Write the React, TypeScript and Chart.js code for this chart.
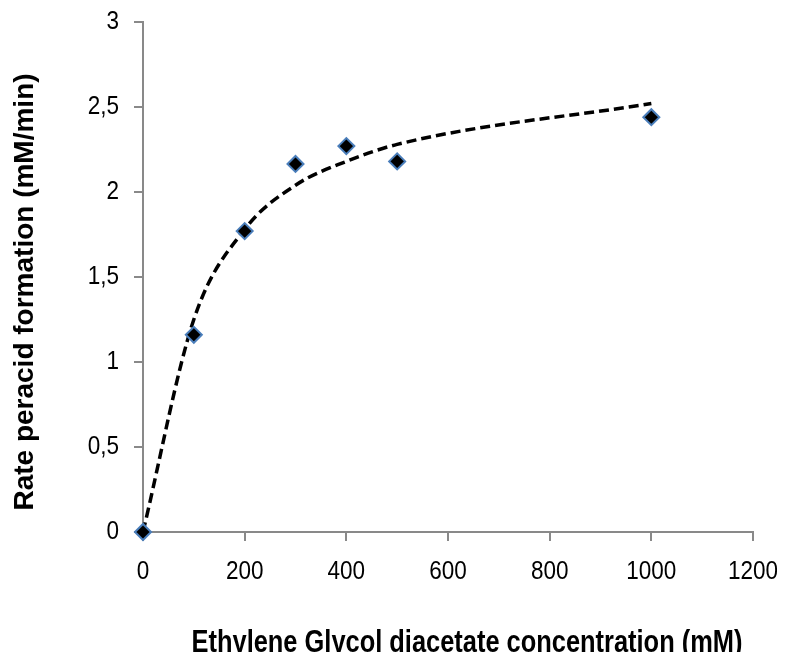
import React, { useEffect, useRef } from 'react';
import { Chart, registerables } from 'chart.js';

Chart.register(...registerables);

// ---- data ----
const concentrations = [0, 100, 200, 300, 400, 500, 1000];
const measuredRates = [0, 1.16, 1.77, 2.165, 2.27, 2.18, 2.44];
const fittedRates = [0, 1.25, 1.78, 2.04, 2.18, 2.28, 2.52];
const xTickLabels = ['0', '200', '400', '600', '800', '1000', '1200'];
const yTickLabels = ['0', '0,5', '1', '1,5', '2', '2,5', '3'];
const xTitle = 'Ethylene Glycol diacetate concentration (mM)';
const yTitle = 'Rate peracid formation (mM/min)';

const FONT = "'Liberation Sans', Arial, sans-serif";
const AXIS_GRAY = '#898989';
const TICK_SCALE_X = 0.9;
const TITLE_SCALE_X = 0.82;

// Horizontal text in the reference is narrow and tall: squeeze it horizontally.
const condensePlugin = {
  id: 'condenseText',
  beforeDraw(chart: any) {
    const ctx = chart.ctx as any;
    if (ctx.__origFillText) return;
    const orig = ctx.fillText;
    ctx.__origFillText = orig;
    ctx.fillText = function (text: string, x: number, y: number) {
      this.save();
      this.translate(x, y);
      this.scale(TICK_SCALE_X, 1);
      orig.call(this, text, 0, 0);
      this.restore();
    };
  },
};

const axisTitlePlugin = {
  id: 'axisTitles',
  afterDraw(chart: any) {
    const { chartArea } = chart;
    const ctx = chart.ctx as any;
    const orig = ctx.__origFillText || ctx.fillText;
    ctx.save();
    ctx.fillStyle = '#000';
    ctx.textAlign = 'center';
    ctx.textBaseline = 'alphabetic';
    ctx.font = `bold 31px ${FONT}`;
    ctx.save();
    ctx.translate((chartArea.left + chartArea.right) / 2 + 19, chart.height - 8);
    ctx.scale(TITLE_SCALE_X, 1);
    orig.call(ctx, xTitle, 0, 0);
    ctx.restore();
    ctx.translate(33, (chartArea.top + chartArea.bottom) / 2 + 15);
    ctx.rotate(-Math.PI / 2);
    ctx.font = `bold 28px ${FONT}`;
    orig.call(ctx, yTitle, 0, 0);
    ctx.restore();
  },
};

const zeroPad = (s: any) => {
  s.paddingTop = 0;
  s.paddingBottom = 0;
  s.paddingLeft = 0;
  s.paddingRight = 0;
};

export default function App() {
  const ref = useRef<HTMLCanvasElement | null>(null);

  useEffect(() => {
    if (!ref.current) return;
    const chart = new Chart(ref.current, {
      type: 'scatter',
      data: {
        datasets: [
          {
            label: 'measured',
            data: concentrations.map((x, i) => ({ x, y: measuredRates[i] })),
            pointStyle: 'rectRot',
            pointRadius: 8,
            pointBackgroundColor: '#000000',
            pointBorderColor: '#4A7EBB',
            pointBorderWidth: 2,
            showLine: false,
            clip: false,
          } as any,
          {
            label: 'fit',
            data: concentrations.map((x, i) => ({ x, y: fittedRates[i] })),
            showLine: true,
            borderColor: '#000000',
            borderWidth: 3.5,
            borderDash: [10, 5],
            pointRadius: 0,
            cubicInterpolationMode: 'monotone',
            fill: false,
            clip: false,
          } as any,
        ],
      },
      options: {
        animation: false,
        responsive: false,
        devicePixelRatio: 1,
        layout: { padding: { top: 22, right: 32, left: 0, bottom: 0 } },
        plugins: { legend: { display: false }, tooltip: { enabled: false } },
        scales: {
          x: {
            type: 'linear',
            min: 0,
            max: 1200,
            afterFit: (s: any) => { s.height = 128; zeroPad(s); },
            ticks: {
              stepSize: 200,
              color: '#000',
              padding: 16,
              font: { family: FONT, size: 25 },
              callback: (_v: any, i: number) => xTickLabels[i],
            },
            grid: { drawOnChartArea: false, drawTicks: true, tickLength: 9, color: AXIS_GRAY, lineWidth: 2 },
            border: { color: AXIS_GRAY, width: 2 },
          },
          y: {
            type: 'linear',
            min: 0,
            max: 3,
            afterFit: (s: any) => { s.width = 143; zeroPad(s); },
            ticks: {
              stepSize: 0.5,
              color: '#000',
              padding: 15,
              font: { family: FONT, size: 25 },
              callback: (_v: any, i: number) => yTickLabels[i],
            },
            grid: { drawOnChartArea: false, drawTicks: true, tickLength: 9, color: AXIS_GRAY, lineWidth: 2 },
            border: { color: AXIS_GRAY, width: 2 },
          },
        },
      },
      plugins: [condensePlugin, axisTitlePlugin],
    } as any);
    return () => chart.destroy();
  }, []);

  return (
    <canvas
      ref={ref}
      width={785}
      height={660}
      style={{ display: 'block', margin: '-8px', width: 785, height: 660 }}
    />
  );
}
